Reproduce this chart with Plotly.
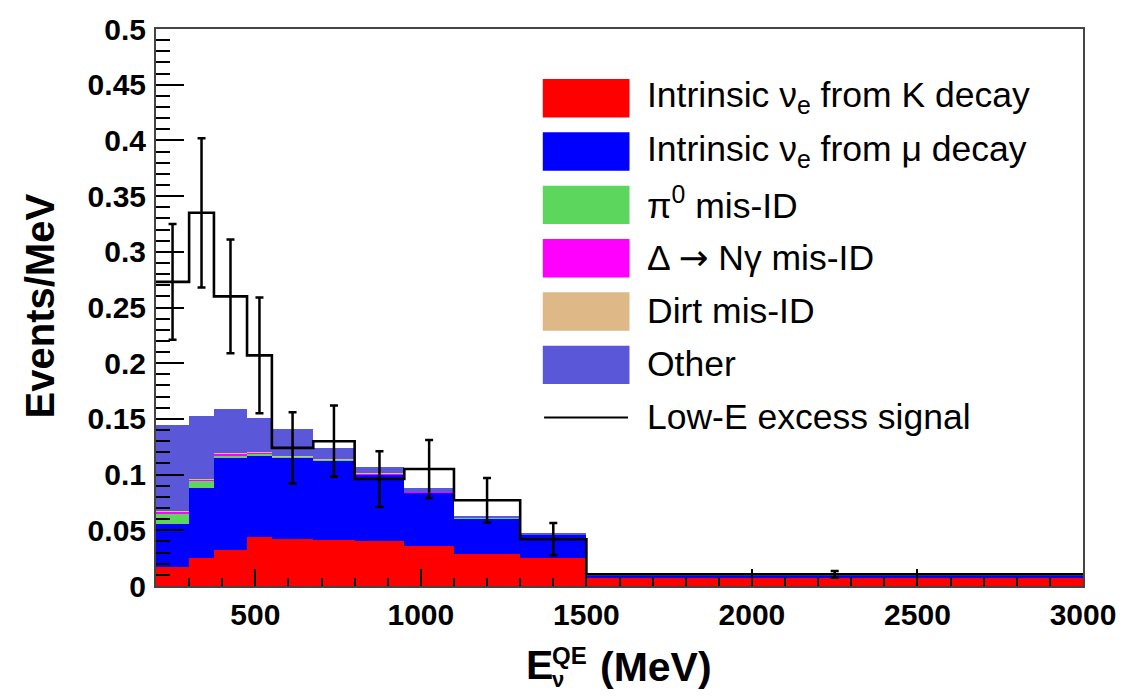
import plotly.graph_objects as go

# ---------------- data ----------------
bin_edges = [200, 300, 375, 475, 550, 675, 800, 950, 1100, 1300, 1500, 3000]
k_decay  = [0.017, 0.025, 0.032, 0.044, 0.042, 0.041, 0.040, 0.036, 0.029, 0.025, 0.0078]
mu_decay = [0.039, 0.063, 0.083, 0.073, 0.073, 0.072, 0.060, 0.048, 0.032, 0.021, 0.0012]
pi0_misid   = [0.009, 0.006, 0.002, 0.0015, 0.001, 0.0005, 0.0005, 0.0003, 0.0002, 0.0002, 0.0001]
delta_misid = [0.002, 0.002, 0.002, 0.0015, 0.0005, 0.0003, 0.0002, 0.0001, 0.0001, 0.0001, 0.0]
dirt_misid  = [0.0005, 0.0005, 0.0005, 0.0005, 0.0005, 0.0002, 0.0003, 0.0001, 0.0001, 0.0001, 0.0]
other       = [0.077, 0.056, 0.039, 0.030, 0.024, 0.010, 0.006, 0.0032, 0.0015, 0.001, 0.0004]
signal      = [0.273, 0.335, 0.260, 0.207, 0.124, 0.130, 0.096, 0.105, 0.077, 0.042, 0.0105]
signal_err  = [0.052, 0.067, 0.051, 0.052, 0.032, 0.032, 0.025, 0.026, 0.020, 0.0145, 0.003]

labels = ["Intrinsic ν<sub>e</sub> from K decay",
          "Intrinsic ν<sub>e</sub> from μ decay",
          "π<sup>0</sup> mis-ID",
          "Δ <span style=\"font-family:'DejaVu Sans'\">→</span> Nγ mis-ID",
          "Dirt mis-ID",
          "Other",
          "Low-E excess signal"]
colors = ["#FF0000", "#0000FF", "#5CD65C", "#FF00FF", "#DEB887", "#5B57D9"]

x_ticks = [500, 1000, 1500, 2000, 2500, 3000]

# ---------------- figure ----------------
FONT = "Liberation Sans, Arial, Helvetica, sans-serif"
centers = [(a + b) / 2 for a, b in zip(bin_edges[:-1], bin_edges[1:])]
widths = [b - a for a, b in zip(bin_edges[:-1], bin_edges[1:])]

fig = go.Figure()
components = [k_decay, mu_decay, pi0_misid, delta_misid, dirt_misid, other]
for vals, col, name in zip(components, colors, labels[:6]):
    fig.add_trace(go.Bar(x=centers, y=vals, width=widths, name=name,
                         marker=dict(color=col, line=dict(width=0)),
                         showlegend=False))

# step histogram for signal
fig.add_trace(go.Scatter(x=bin_edges, y=signal + [signal[-1]], mode="lines",
                         line=dict(color="black", width=2.6, shape="hv"),
                         showlegend=False))
# error bars
fig.add_trace(go.Scatter(x=centers, y=signal, mode="markers",
                         marker=dict(size=0.1, color="black"),
                         error_y=dict(type="data", array=signal_err, visible=True,
                                      color="black", thickness=2.5, width=4),
                         showlegend=False))

# plot geometry (pixels)
L, R, T, B = 155.5, 1083.5, 29.3, 586.0
W, H = R - L, B - T
def px(x):
    return (x - L) / W
def py(y):
    return (B - y) / H

shapes = []
annotations = []
row_y = [98.5, 151.8, 205.1, 258.4, 311.7, 365.0, 417.7]
for i, lab in enumerate(labels):
    yc = row_y[i]
    if i < 6:
        shapes.append(dict(type="rect", xref="paper", yref="paper",
                           x0=px(542.7), x1=px(629.5), y0=py(yc - 19.2), y1=py(yc + 19.2),
                           fillcolor=colors[i], line=dict(width=0), layer="above"))
    else:
        shapes.append(dict(type="line", xref="paper", yref="paper",
                           x0=px(544), x1=px(628), y0=py(yc), y1=py(yc),
                           line=dict(color="black", width=2)))
    annotations.append(dict(text=lab, xref="paper", yref="paper", x=px(645), y=py(yc - 1),
                            xanchor="left", yanchor="middle", showarrow=False,
                            font=dict(family=FONT, size=35.5, color="black")))

# axis titles
annotations.append(dict(text="<b>Events/MeV</b>", xref="paper", yref="paper",
                        x=px(39), y=py(306), textangle=-90, xanchor="center", yanchor="middle",
                        showarrow=False, font=dict(family=FONT, size=40, color="black")))
annotations.append(dict(text="<b>E</b>", xref="paper", yref="paper", x=px(524), y=py(665),
                        xanchor="left", yanchor="middle", showarrow=False,
                        font=dict(family=FONT, size=41, color="black")))
annotations.append(dict(text="<b>QE</b>", xref="paper", yref="paper", x=px(550), y=py(655),
                        xanchor="left", yanchor="middle", showarrow=False,
                        font=dict(family=FONT, size=24, color="black")))
annotations.append(dict(text="<b>ν</b>", xref="paper", yref="paper", x=px(550), y=py(679),
                        xanchor="left", yanchor="middle", showarrow=False,
                        font=dict(family=FONT, size=22, color="black")))
annotations.append(dict(text="<b>(MeV)</b>", xref="paper", yref="paper", x=px(598), y=py(667),
                        xanchor="left", yanchor="middle", showarrow=False,
                        font=dict(family=FONT, size=41, color="black")))

fig.update_layout(
    width=1132, height=696,
    margin=dict(l=L, r=1132 - R, t=T, b=696 - B, pad=0),
    paper_bgcolor="white", plot_bgcolor="white",
    barmode="stack", bargap=0,
    showlegend=False,
    shapes=shapes, annotations=annotations,
    font=dict(family=FONT, color="black"),
)
fig.update_xaxes(range=[200, 3000], tickvals=x_ticks, ticktext=[str(v) for v in x_ticks],
                 ticks="inside", ticklen=17, tickwidth=2, tickcolor="black",
                 minor=dict(ticks="inside", ticklen=8, dtick=100, tick0=0, tickwidth=2, tickcolor="black"),
                 showline=True, linecolor="#444", linewidth=2, mirror=True,
                 showgrid=False, zeroline=False,
                 tickfont=dict(family=FONT, size=30, color="black", weight="bold"),
                 ticklabelstandoff=1)
fig.update_yaxes(range=[0, 0.5], dtick=0.05, tick0=0,
                 ticks="inside", ticklen=28, tickwidth=2, tickcolor="black",
                 minor=dict(ticks="inside", ticklen=14, dtick=0.01, tick0=0, tickwidth=2, tickcolor="black"),
                 showline=True, linecolor="#444", linewidth=2, mirror=True,
                 showgrid=False, zeroline=False,
                 tickfont=dict(family=FONT, size=30, color="black", weight="bold"),
                 ticklabelstandoff=2)

fig.write_html("out.html")
